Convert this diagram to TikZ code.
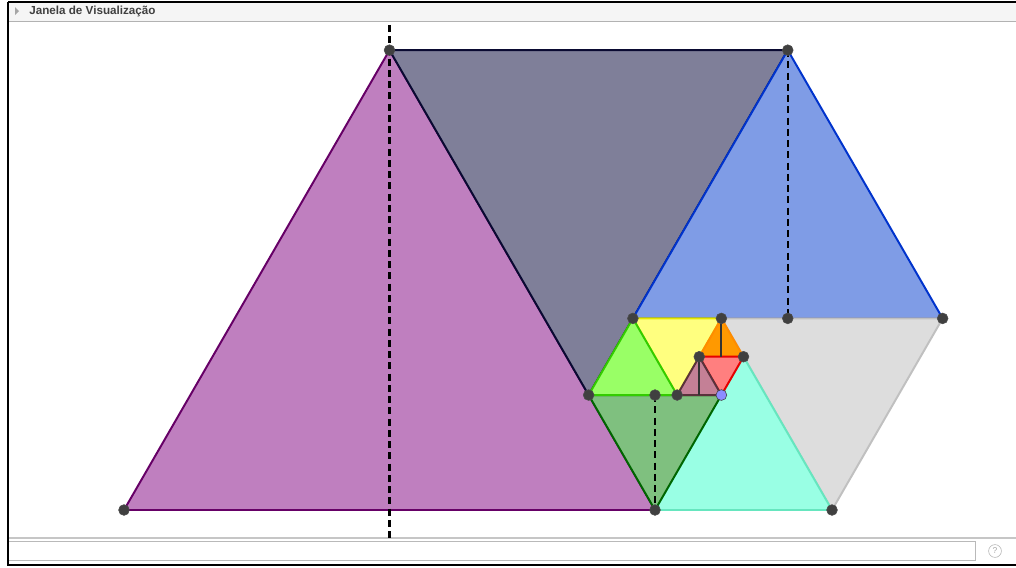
\documentclass[tikz,border=0pt]{standalone}
\usepackage{fontspec}
\setmainfont{Liberation Sans}
\usetikzlibrary{positioning}
\usetikzlibrary{calc}
\definecolor{purpfill}{RGB}{191,127,191}
\definecolor{purpline}{RGB}{102,0,102}
\definecolor{slatefill}{RGB}{127,127,153}
\definecolor{slateline}{RGB}{10,10,50}
\definecolor{bluefill}{RGB}{127,156,230}
\definecolor{blueline}{RGB}{0,51,204}
\definecolor{greyfill}{RGB}{221,221,221}
\definecolor{greyline}{RGB}{192,192,192}
\definecolor{turqfill}{RGB}{153,255,228}
\definecolor{turqline}{RGB}{102,230,191}
\definecolor{dgreenfill}{RGB}{127,192,127}
\definecolor{dgreenline}{RGB}{0,102,0}
\definecolor{lgreenfill}{RGB}{153,255,102}
\definecolor{lgreenline}{RGB}{51,204,0}
\definecolor{yellowfill}{RGB}{255,255,127}
\definecolor{yellowline}{RGB}{230,230,0}
\definecolor{orangefill}{RGB}{255,153,0}
\definecolor{orangeline}{RGB}{255,140,0}
\definecolor{redfill}{RGB}{255,127,127}
\definecolor{redline}{RGB}{230,0,0}
\definecolor{mauvefill}{RGB}{196,128,150}
\definecolor{mauveline}{RGB}{90,50,60}
\definecolor{dotgrey}{RGB}{64,64,64}
\tikzstyle{tri}=[line width=1.4pt, line join=round]
\tikzstyle{dot}=[circle,fill=dotgrey,draw=black!70,minimum size=0.27cm,inner sep=0pt]
\tikzstyle{bluedot}=[circle,fill=blue!45!white,draw=dotgrey,minimum size=0.27cm,inner sep=0pt]
\tikzstyle{altitude}=[draw,black,line width=1.6pt,dash pattern=on 5pt off 3pt]
\tikzstyle{stem}=[draw,black!80,line width=1.4pt]
\tikzstyle{frame}=[draw,black,line width=1.6pt]
\tikzstyle{bar}=[draw=gray!60,fill=gray!8,line width=0.6pt]

\begin{document}
\begin{tikzpicture}[x=0.025cm, y=-0.025cm]

  \def\dx{124};
  \def\dy{510};
  \def\u{44.25};
  \def\h{38.32};

  \useasboundingbox (0,0) rectangle (1016,567);

  % window
  \path[bar] (8,2) rectangle (1016,21);
  \fill[gray!70] (15,7) -- (19,11) -- (15,15) -- cycle;
  \node[anchor=west, text=black!75, font=\bfseries\fontsize{8.3}{9}\selectfont, inner sep=0pt] (title) at (29,11.5) {Janela de Visualização};
  \draw[gray!45, line width=0.8pt] (8,538) -- (1016,538);
  \path[draw=gray!55, fill=white, line width=0.6pt] (8,541) rectangle (975,560);
  \node[circle, draw=gray!60, inner sep=0pt, minimum size=0.32cm, text=gray!70, font=\fontsize{6}{6}\selectfont] (help) at (995,551) {?};
  \draw[frame] (8,2) -- (1016,2);
  \draw[frame] (8,2) -- (8,565) -- (1016,565);

  % lattice points
  \foreach \x/\y/\name in {0/0/A, 12/0/B, 6/12/C, 15/12/D, 10.5/3/E, 11.5/5/F, 13.5/5/G, 15/5/H, 18.5/5/I, 16/0/J, 12/3/K, 12.5/3/L, 13/4/M, 14/4/N, 13.5/3/O, 13.5/4/Nf, 13/3/Mf, 6/12.66/Ctop, 6/-0.78/Cbot}
          \coordinate (\name) at (\dx+\x*\u, \dy-\y*\h);

  % triangles
  \foreach \a/\b/\c/\col in {A/B/C/purp, C/D/E/slate, D/F/I/blue, G/I/J/grey, B/J/N/turq, E/O/B/dgreen, F/G/L/yellow, E/L/F/lgreen, G/M/N/orange, M/N/O/red, L/O/M/mauve}
         \path[tri, fill=\col fill, draw=\col line] (\a) -- (\b) -- (\c) -- cycle;

  \path[altitude] (Ctop) -- (Cbot);
  \path[altitude] (D) -- (H);
  \path[altitude] (K) -- (B);
  \path[stem] (G) -- (Nf);
  \path[stem] (M) -- (Mf);

  \foreach \name in {A, B, C, D, E, F, G, H, I, J, K, L, M, N}
          \node[dot] (d\name) at (\name) {};
  \node[bluedot] (dO) at (O) {};

\end{tikzpicture}
\end{document}
